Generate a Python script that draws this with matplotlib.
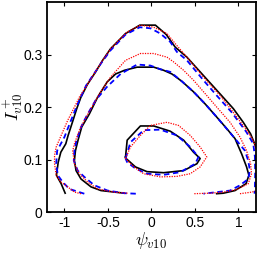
import numpy as np
import matplotlib
matplotlib.use("Agg")
import matplotlib.pyplot as plt

plt.rcParams['font.family'] = ['Liberation Sans', 'DejaVu Sans']
plt.rcParams['mathtext.fontset'] = 'cm'

# contour lines: (psi_v10, I+_v10) pairs
# black solid
k_outer = [(-0.990, 0.036), (-1.036, 0.054), (-1.090, 0.070), (-1.070, 0.095), (-1.040, 0.114),
           (-0.983, 0.130), (-0.956, 0.146), (-0.907, 0.171), (-0.857, 0.197), (-0.811, 0.218),
           (-0.735, 0.243), (-0.640, 0.267), (-0.560, 0.289), (-0.469, 0.311), (-0.297, 0.340),
           (-0.133, 0.356), (0.046, 0.356), (0.171, 0.338), (0.274, 0.314), (0.408, 0.295),
           (0.598, 0.260), (0.789, 0.225), (0.941, 0.197), (1.055, 0.171), (1.139, 0.149),
           (1.200, 0.124)]
k_middle = [(-0.312, 0.036), (-0.579, 0.041), (-0.693, 0.048), (-0.808, 0.063), (-0.865, 0.079),
            (-0.884, 0.098), (-0.872, 0.117), (-0.842, 0.137), (-0.800, 0.162), (-0.712, 0.187),
            (-0.617, 0.219), (-0.507, 0.248), (-0.411, 0.263), (-0.309, 0.270), (-0.164, 0.276),
            (0.027, 0.276), (0.141, 0.270), (0.236, 0.263), (0.350, 0.249), (0.484, 0.229),
            (0.617, 0.206), (0.750, 0.181), (0.865, 0.159), (0.960, 0.140), (1.036, 0.111),
            (1.093, 0.086), (1.120, 0.070), (1.086, 0.054), (0.960, 0.041), (0.827, 0.036),
            (0.750, 0.035)]
k_inner = [(-0.297, 0.105), (-0.278, 0.137), (-0.126, 0.164), (0.027, 0.164), (0.217, 0.154),
           (0.370, 0.137), (0.484, 0.114), (0.560, 0.102), (0.522, 0.092), (0.370, 0.079),
           (0.141, 0.075), (-0.050, 0.077), (-0.183, 0.086), (-0.297, 0.103), (-0.297, 0.105)]

# blue dashed
b_outer = [(-0.770, 0.035), (-0.827, 0.038), (-0.941, 0.044), (-1.017, 0.057), (-1.074, 0.070),
           (-1.093, 0.092), (-1.082, 0.117), (-0.998, 0.143), (-0.922, 0.175), (-0.846, 0.206),
           (-0.750, 0.241), (-0.579, 0.283), (-0.469, 0.308), (-0.297, 0.338), (-0.133, 0.352),
           (-0.011, 0.350), (0.103, 0.340), (0.217, 0.324), (0.293, 0.305), (0.408, 0.289),
           (0.598, 0.251), (0.750, 0.222), (0.922, 0.190), (1.093, 0.152), (1.170, 0.130),
           (1.189, 0.105), (1.192, 0.073), (1.189, 0.048), (1.185, 0.035)]
b_middle = [(-0.179, 0.035), (-0.312, 0.036), (-0.503, 0.041), (-0.655, 0.051), (-0.770, 0.067),
            (-0.846, 0.079), (-0.891, 0.098), (-0.884, 0.117), (-0.865, 0.133), (-0.808, 0.162),
            (-0.731, 0.187), (-0.640, 0.213), (-0.507, 0.239), (-0.354, 0.263), (-0.164, 0.281),
            (-0.011, 0.279), (0.103, 0.272), (0.217, 0.267), (0.350, 0.249), (0.484, 0.229),
            (0.617, 0.206), (0.750, 0.181), (0.960, 0.140), (1.074, 0.117), (1.112, 0.098),
            (1.131, 0.079), (1.112, 0.063), (1.017, 0.051), (0.903, 0.041), (0.750, 0.038),
            (0.598, 0.035)]
b_inner = [(-0.297, 0.102), (-0.240, 0.133), (-0.088, 0.156), (0.103, 0.157), (0.293, 0.146),
           (0.446, 0.124), (0.541, 0.105), (0.503, 0.092), (0.331, 0.076), (0.141, 0.071),
           (-0.050, 0.073), (-0.183, 0.083), (-0.278, 0.095), (-0.297, 0.102)]

# red dotted
r_outer = [(-0.808, 0.035), (-0.884, 0.038), (-0.960, 0.048), (-1.036, 0.057), (-1.093, 0.070),
           (-1.112, 0.092), (-1.112, 0.108), (-1.093, 0.124), (-1.036, 0.146), (-0.960, 0.175),
           (-0.865, 0.206), (-0.827, 0.219), (-0.731, 0.244), (-0.560, 0.289), (-0.469, 0.311),
           (-0.278, 0.343), (-0.126, 0.356), (0.027, 0.352), (0.179, 0.340), (0.293, 0.317),
           (0.408, 0.295), (0.598, 0.257), (0.789, 0.222), (0.941, 0.190), (1.093, 0.156),
           (1.170, 0.137), (1.200, 0.121)]
r_outer_tail = [(1.017, 0.035), (1.150, 0.038), (1.200, 0.040)]
r_middle = [(-0.274, 0.036), (-0.427, 0.038), (-0.617, 0.044), (-0.731, 0.057), (-0.827, 0.073),
            (-0.884, 0.092), (-0.903, 0.117), (-0.884, 0.130), (-0.827, 0.156), (-0.750, 0.181),
            (-0.674, 0.203), (-0.583, 0.229), (-0.469, 0.257), (-0.297, 0.289), (-0.126, 0.302),
            (0.027, 0.302), (0.179, 0.295), (0.255, 0.286), (0.370, 0.270), (0.484, 0.251),
            (0.636, 0.222), (0.750, 0.200), (0.903, 0.171), (1.017, 0.143), (1.093, 0.117),
            (1.139, 0.092), (1.150, 0.073), (1.112, 0.054), (0.979, 0.043), (0.827, 0.038),
            (0.674, 0.036), (0.484, 0.035)]
r_inner = [(-0.297, 0.102), (-0.240, 0.124), (-0.126, 0.146), (-0.011, 0.165), (0.179, 0.171),
           (0.312, 0.165), (0.446, 0.146), (0.560, 0.124), (0.636, 0.105), (0.560, 0.086),
           (0.446, 0.073), (0.293, 0.068), (0.103, 0.067), (-0.088, 0.073), (-0.202, 0.086),
           (-0.297, 0.102)]

xticks = [-1, -0.5, 0, 0.5, 1]
yticks = [0, 0.1, 0.2, 0.3]


def draw(ax, pts, **kw):
    a = np.array(pts)
    ax.plot(a[:, 0], a[:, 1], **kw)


fig = plt.figure(figsize=(2.59, 2.54), dpi=100)
ax = fig.add_axes([0.181, 0.165, 0.807, 0.827])

for c in (k_outer, k_middle, k_inner):
    draw(ax, c, color='k', lw=1.2, ls='-')
for c in (b_outer, b_middle, b_inner):
    draw(ax, c, color='#0000ff', lw=1.3, ls=(0, (3, 2)))
for c in (r_outer, r_outer_tail, r_middle, r_inner):
    draw(ax, c, color='#ff0000', lw=0.9, ls=(0, (1, 1)))

ax.set_xlim(-1.2, 1.2)
ax.set_ylim(0, 0.4)
ax.set_xticks(xticks)
ax.set_xticklabels(['-1', '-0.5', '0', '0.5', '1'])
ax.set_yticks(yticks)
ax.set_yticklabels(['0', '0.1', '0.2', '0.3'])
ax.tick_params(direction='in', top=True, right=True, labelsize=10, length=3, width=0.8, pad=3)
for s in ax.spines.values():
    s.set_linewidth(1.3)

ax.set_xlabel(r'$\psi_{v10}$', fontsize=13, labelpad=0)
ax.set_ylabel(r'$I^+_{v10}$', fontsize=13, labelpad=-1)

fig.savefig('out.png', dpi=100)
